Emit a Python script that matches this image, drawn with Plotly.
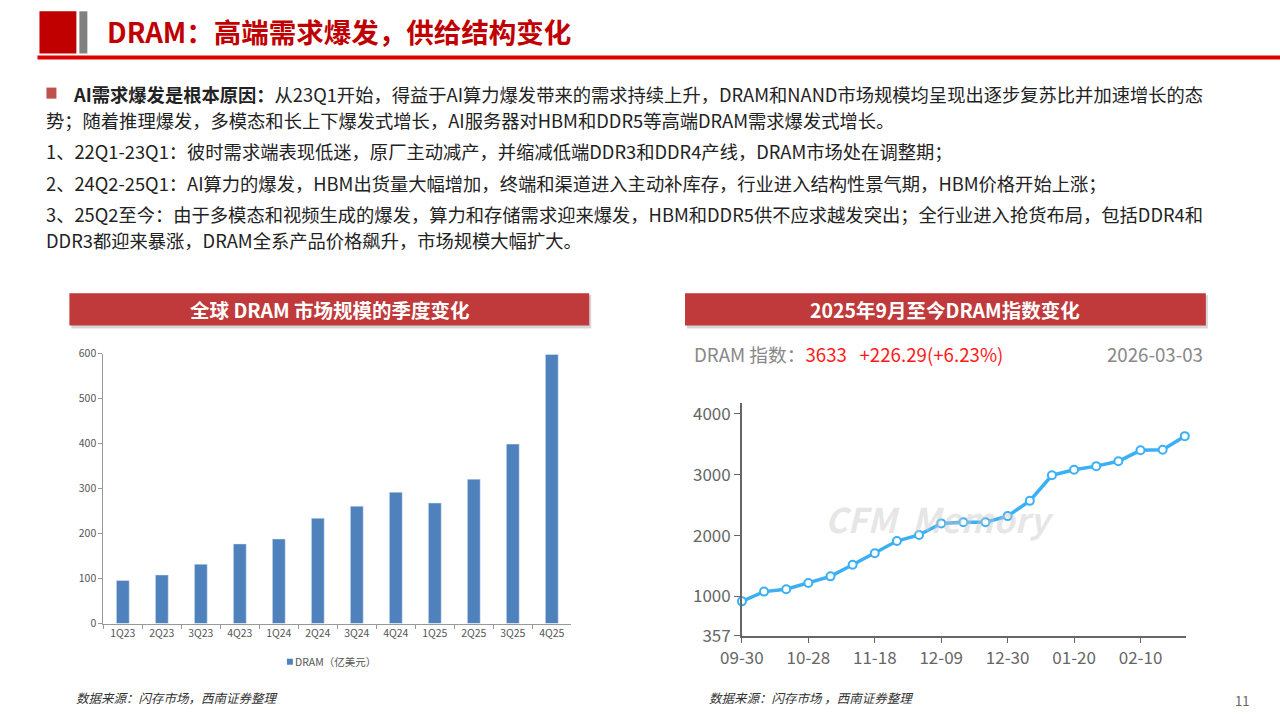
import plotly.graph_objects as go

quarters = ["1Q23","2Q23","3Q23","4Q23","1Q24","2Q24","3Q24","4Q24","1Q25","2Q25","3Q25","4Q25"]
dram_size = [96,108,132,177,188,234,261,292,268,321,399,598]

idx_x = list(range(21))
idx_vals = [920,1080,1120,1220,1330,1520,1710,1910,2010,2200,2220,2220,2320,2570,2990,3080,3140,3220,3400,3410,3633]
idx_tickvals = [0,3,6,9,12,15,18]
idx_ticktext = ["09-30","10-28","11-18","12-09","12-30","01-20","02-10"]

W, H = 1280, 720
# compensate for the observed page scaling
def px(x): return min(max(((x - 20.5) / 0.985) / W, 0), 1)
def py(y): return min(max(1 - ((y - 9.7) / 0.970) / H, 0), 1)

FONT = "Noto Sans CJK SC"
fig = go.Figure()
fig.add_trace(go.Bar(x=quarters, y=dram_size, marker_color="#4F81BD", width=0.33,
                     xaxis="x", yaxis="y", showlegend=False))
fig.add_trace(go.Scatter(x=idx_x, y=idx_vals, mode="lines+markers",
                         line=dict(color="#3BB0F5", width=3.5),
                         marker=dict(size=8, color="white", line=dict(color="#3BB0F5", width=2)),
                         xaxis="x2", yaxis="y2", showlegend=False, cliponaxis=False))

fig.update_layout(
    autosize=True, margin=dict(l=0, r=0, t=0, b=0),
    paper_bgcolor="white", plot_bgcolor="rgba(0,0,0,0)",
    font=dict(family=FONT),
    xaxis=dict(domain=[px(102), px(571)], anchor="y", showline=True, linecolor="#999",
               ticks="outside", ticklen=4, tickcolor="#999", showgrid=False,
               tickfont=dict(size=10.5, color="#555"), tickson="boundaries"),
    yaxis=dict(domain=[py(623), py(354)], anchor="x", range=[0, 600], dtick=100,
               showline=True, linecolor="#999", ticks="outside", ticklen=4, tickcolor="#999",
               showgrid=False, zeroline=False, tickfont=dict(size=10.5, color="#555")),
    xaxis2=dict(domain=[px(742), px(1187)], anchor="y2", range=[0, 20.05],
                tickvals=idx_tickvals, ticktext=idx_ticktext, showline=True, linecolor="#666",
                linewidth=1.5, ticks="outside", ticklen=6, tickcolor="#666", showgrid=False,
                zeroline=False, tickfont=dict(size=17, color="#666")),
    yaxis2=dict(domain=[py(635), py(403)], anchor="x2", range=[357, 4181],
                tickvals=[357,1000,2000,3000,4000], showline=True, linecolor="#666",
                linewidth=1.5, ticks="outside", ticklen=6, tickcolor="#666", showgrid=False,
                zeroline=False, tickfont=dict(size=17, color="#666")),
)

def rect(x0, x1, y0, y1, color, opacity=1.0):
    return dict(type="rect", xref="paper", yref="paper", x0=px(x0), x1=px(x1), y0=py(y1), y1=py(y0),
                fillcolor=color, opacity=opacity, line_width=0, layer="below")

shapes = [
    rect(38, 75, 13, 55, "#C00000"),
    rect(78, 86, 13, 55, "#808080"),
    rect(36, 1300, 57, 61, "#E00000"),
    rect(45, 55, 89, 100, "#C0504D"),
    rect(70, 591, 296, 329, "#8A8A8A", 0.35),
    rect(68, 589, 294, 326, "#C0393B"),
    rect(687, 1209, 296, 329, "#8A8A8A", 0.35),
    rect(685, 1207, 294, 326, "#C0393B"),
    rect(286, 292, 658, 664, "#4F81BD"),
]
fig.update_layout(shapes=shapes)

def ann(x, y, text, size=18.3, color="#222", xanchor="left", **kw):
    fig.add_annotation(x=px(x), y=py(y), xref="paper", yref="paper", text=text, showarrow=False,
                       xanchor=xanchor, yanchor="middle", font=dict(size=size, color=color, family=FONT), **kw)

ann(104, 33, "<b>DRAM：高端需求爆发，供给结构变化</b>", size=27.5, color="#C00000")
ann(70, 95, "<b>AI需求爆发是根本原因：</b>从23Q1开始，得益于AI算力爆发带来的需求持续上升，DRAM和NAND市场规模均呈现出逐步复苏比并加速增长的态")
ann(43, 121, "势；随着推理爆发，多模态和长上下爆发式增长，AI服务器对HBM和DDR5等高端DRAM需求爆发式增长。")
ann(43, 152, "1、22Q1-23Q1：彼时需求端表现低迷，原厂主动减产，并缩减低端DDR3和DDR4产线，DRAM市场处在调整期；")
ann(43, 184, "2、24Q2-25Q1：AI算力的爆发，HBM出货量大幅增加，终端和渠道进入主动补库存，行业进入结构性景气期，HBM价格开始上涨；")
ann(43, 215, "3、25Q2至今：由于多模态和视频生成的爆发，算力和存储需求迎来爆发，HBM和DDR5供不应求越发突出；全行业进入抢货布局，包括DDR4和")
ann(43, 241, "DDR3都迎来暴涨，DRAM全系产品价格飙升，市场规模大幅扩大。")
ann(329, 310, "<b>全球 DRAM 市场规模的季度变化</b>", size=19.5, color="white", xanchor="center")
ann(946, 310, "<b>2025年9月至今DRAM指数变化</b>", size=19.5, color="white", xanchor="center")
ann(292, 661, "DRAM（亿美元）", size=10.5, color="#555")
ann(692, 354, "DRAM 指数：<span style='color:#FF1A1A'>3633 &nbsp; +226.29(+6.23%)</span>", size=18.7, color="#888")
ann(1206, 354, "2026-03-03", size=18.7, color="#888", xanchor="right")
ann(940, 518, "<b><i>CFM  Memory</i></b>", size=34, color="rgba(200,200,200,0.45)", xanchor="center")
ann(73, 697, "<i>数据来源：闪存市场，西南证券整理</i>", size=12.5, color="#333")
ann(707, 697, "<i>数据来源：闪存市场 ，西南证券整理</i>", size=12.5, color="#333")
ann(1252, 700, "11", size=13, color="#666", xanchor="right")

fig.write_html("out.html", config={"displayModeBar": False, "responsive": True},
               default_width="100vw", default_height="100vh",
               post_script="document.body.style.margin='0';document.body.style.overflow='hidden';window.dispatchEvent(new Event('resize'));")
